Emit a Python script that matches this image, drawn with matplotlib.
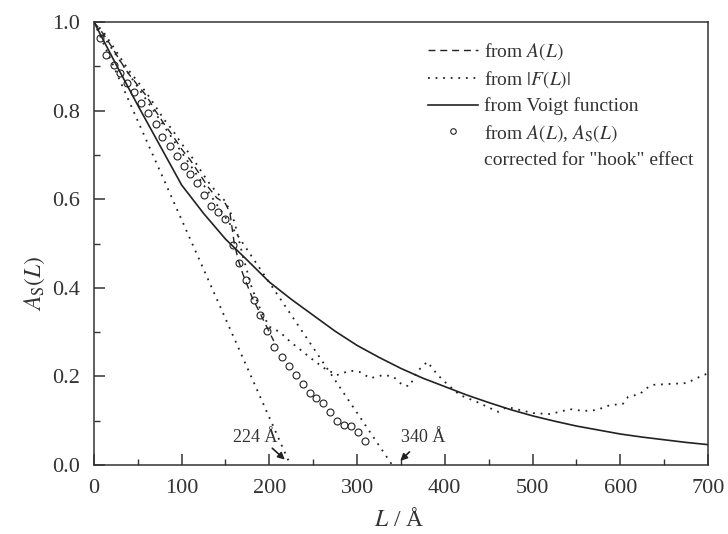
import numpy as np
import matplotlib.pyplot as plt
from matplotlib.lines import Line2D
from matplotlib.ticker import MultipleLocator

plt.rcParams['font.family'] = ['Liberation Serif', 'DejaVu Serif']
plt.rcParams['mathtext.fontset'] = 'stix'

# Voigt function fit (solid)
L_voigt = [0, 25, 50, 75, 100, 125, 150, 175, 200, 225, 250, 275, 300, 325, 350, 375, 400, 425,
           450, 475, 500, 525, 550, 575, 600, 625, 650, 675, 700]
A_voigt = [1.0, 0.905, 0.812, 0.722, 0.632, 0.568, 0.51, 0.462, 0.413, 0.374, 0.338, 0.302, 0.27,
           0.243, 0.218, 0.196, 0.177, 0.158, 0.141, 0.125, 0.111, 0.099, 0.088, 0.079, 0.07,
           0.063, 0.057, 0.051, 0.046]

# from A(L) (dashed)
L_dash = [0, 10, 20, 30, 40, 50, 60, 70, 80, 90, 100, 110, 120, 130, 140, 150, 155, 160, 165,
          170, 180, 190, 200, 205]
A_dash = [1.0, 0.975, 0.945, 0.912, 0.882, 0.857, 0.833, 0.80, 0.77, 0.743, 0.713, 0.688, 0.658,
          0.628, 0.603, 0.59, 0.57, 0.50, 0.46, 0.43, 0.38, 0.34, 0.30, 0.28]

# from |F(L)| (dotted)
L_F = [0, 10, 20, 30, 40, 50, 60, 70, 80, 90, 100, 110, 120, 130, 140, 150, 160, 170, 180, 190,
       200, 212, 224, 238, 250, 263, 277, 292, 303, 315, 330, 341, 352, 360, 368, 380, 392, 402,
       417, 436, 452, 461, 471, 486, 501, 520, 543, 558, 573, 588, 603, 609, 622, 632, 638, 657,
       676, 687, 700]
A_F = [1.0, 0.98, 0.95, 0.92, 0.89, 0.865, 0.84, 0.81, 0.78, 0.755, 0.725, 0.70, 0.67, 0.64,
       0.615, 0.595, 0.55, 0.47, 0.40, 0.35, 0.312, 0.30, 0.278, 0.256, 0.237, 0.218, 0.203,
       0.213, 0.21, 0.196, 0.203, 0.2, 0.18, 0.178, 0.21, 0.233, 0.203, 0.184, 0.158, 0.143,
       0.128, 0.12, 0.131, 0.124, 0.117, 0.115, 0.126, 0.122, 0.124, 0.135, 0.138, 0.154, 0.16,
       0.176, 0.181, 0.183, 0.185, 0.196, 0.207]

# corrected for "hook" effect (circles)
L_circ = [7, 14, 23, 30, 38, 46, 54, 62, 71, 78, 87, 95, 103, 110, 118, 126, 134, 142, 149, 158,
          165, 173, 182, 189, 197, 205, 214, 222, 230, 238, 246, 253, 261, 269, 277, 285, 293,
          301, 309]
A_circ = [0.963, 0.926, 0.903, 0.884, 0.862, 0.841, 0.818, 0.794, 0.77, 0.741, 0.719, 0.698,
          0.676, 0.657, 0.637, 0.609, 0.585, 0.571, 0.555, 0.497, 0.455, 0.418, 0.372, 0.339,
          0.303, 0.266, 0.243, 0.223, 0.203, 0.183, 0.163, 0.151, 0.139, 0.12, 0.1, 0.09, 0.087,
          0.074, 0.055]

# initial-slope intercepts and their labels
intercepts = [224, 340]
label_pos = [(184, 0.063), (375, 0.063)]
arrow_from = [(201, 0.042), (362, 0.034)]
arrow_to = [(220, 0.008), (347, 0.005)]

fig, ax = plt.subplots(figsize=(7.28, 5.34), dpi=100)
fig.subplots_adjust(left=0.129, right=0.9725, top=0.9588, bottom=0.1292)

ink = '#222222'
dotted = (0, (1, 3.2))
dashed = (0, (5, 3.5))
ax.plot(L_voigt, A_voigt, color=ink, lw=1.2)
ax.plot(L_dash, A_dash, color=ink, lw=1.0, linestyle=dashed)
ax.plot(L_F, A_F, color=ink, lw=1.3, linestyle=dotted)
for x0 in intercepts:
    ax.plot([0, x0], [1, 0], color=ink, lw=1.3, linestyle=dotted)
ax.plot(L_circ, A_circ, 'o', mfc='none', mec=ink, ms=5, mew=0.8)

for x0, (tx, ty), p0, p1 in zip(intercepts, label_pos, arrow_from, arrow_to):
    ax.annotate('', xy=p1, xytext=p0,
                arrowprops=dict(arrowstyle='-|>', color=ink, lw=1.2, mutation_scale=10))
    ax.text(tx, ty, f'{x0} Å', fontsize=13, ha='center', va='center', color='#333333')

ax.set_xlim(0, 700)
ax.set_ylim(0, 1.0)
ax.xaxis.set_major_locator(MultipleLocator(100))
ax.xaxis.set_minor_locator(MultipleLocator(50))
ax.yaxis.set_major_locator(MultipleLocator(0.2))
ax.yaxis.set_minor_locator(MultipleLocator(0.1))
ax.yaxis.set_major_formatter(plt.FormatStrFormatter('%.1f'))
ax.tick_params(which='both', direction='in', top=False, right=False, labelsize=16,
               colors='#333333')
ax.tick_params(which='major', length=8, width=1.1)
ax.tick_params(axis='x', which='major', pad=10)
ax.tick_params(axis='y', which='major', pad=10)
ax.tick_params(which='minor', length=4, width=1.0)
for s in ax.spines.values():
    s.set_linewidth(1.1)
    s.set_color('#333333')

ax.set_xlabel('$L$ / Å', fontsize=17, color='#333333')
ax.set_ylabel(r'$A_\mathrm{S}(L)$', fontsize=17, color='#333333')
ax.xaxis.label.set_va('center')
ax.yaxis.label.set_va('center')
ax.xaxis.set_label_coords(0.498, -0.124)
ax.yaxis.set_label_coords(-0.096, 0.41)

handles = [Line2D([], [], color=ink, lw=1.0, linestyle=dashed),
           Line2D([], [], color=ink, lw=1.3, linestyle=dotted),
           Line2D([], [], color=ink, lw=1.2),
           Line2D([], [], marker='o', ls='none', mfc='none', mec=ink, ms=4, mew=0.8),
           Line2D([], [], ls='none')]
labels = ['from $A(L)$', 'from $|F(L)|$', 'from Voigt function',
          r'from $A(L)$, $A_\mathrm{S}(L)$', 'corrected for "hook" effect']
leg = ax.legend(handles, labels, loc='upper left', bbox_to_anchor=(0.532, 0.975), frameon=False,
                fontsize=14, handlelength=2.55, handletextpad=0.3, labelspacing=0.38,
                borderaxespad=0)
for t in leg.get_texts():
    t.set_color('#333333')

fig.savefig('out.png', dpi=100)
